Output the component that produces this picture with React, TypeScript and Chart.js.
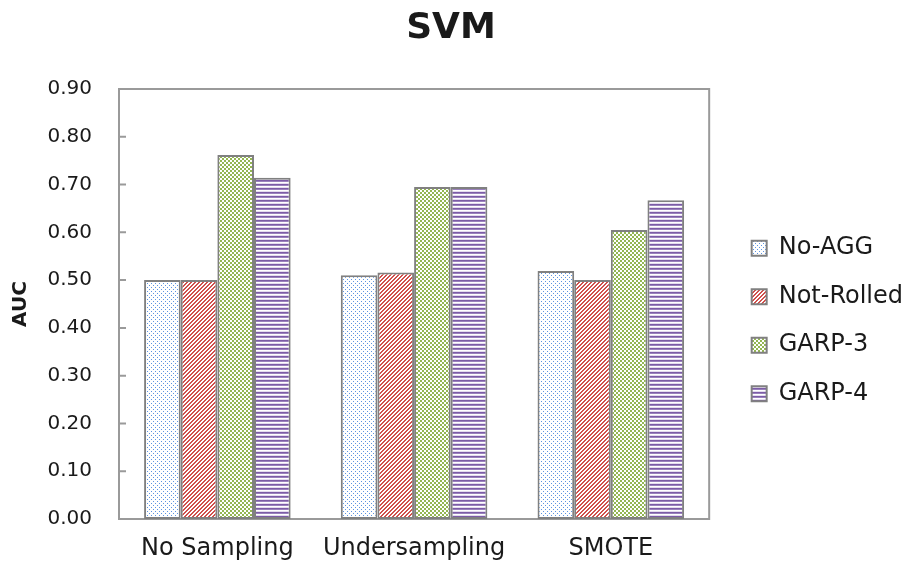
import React, { useEffect, useRef } from 'react';
import { Chart, registerables } from 'chart.js';

Chart.register(...registerables);

const categories = ['No Sampling', 'Undersampling', 'SMOTE'];
const seriesNames = ['No-AGG', 'Not-Rolled', 'GARP-3', 'GARP-4'];
const noAgg = [0.5, 0.51, 0.519];
const notRolled = [0.5, 0.516, 0.5];
const garp3 = [0.762, 0.695, 0.605];
const garp4 = [0.714, 0.695, 0.667];
const yMin = 0;
const yMax = 0.9;
const yStep = 0.1;

const FONT = 'DejaVu Sans';
const TEXT = '#1a1a1a';

function makePattern(w: number, h: number, draw: (g: CanvasRenderingContext2D) => void) {
  const c = document.createElement('canvas');
  c.width = w;
  c.height = h;
  const g = c.getContext('2d')!;
  draw(g);
  return g.createPattern(c, 'repeat')!;
}

export default function App() {
  const ref = useRef<HTMLCanvasElement | null>(null);

  useEffect(() => {
    document.body.style.margin = '0';
    const canvas = ref.current!;

    const dots = makePattern(4, 4, (g) => {
      g.fillStyle = '#ffffff';
      g.fillRect(0, 0, 4, 4);
      g.fillStyle = '#5d93e0';
      g.fillRect(1, 1, 1, 1);
      g.fillRect(3, 3, 1, 1);
    });
    const diag = makePattern(4, 4, (g) => {
      for (let x = 0; x < 4; x++) {
        for (let y = 0; y < 4; y++) {
          g.fillStyle = (x + y) % 4 < 2 ? '#d0504c' : '#ffffff';
          g.fillRect(x, y, 1, 1);
        }
      }
    });
    const check = makePattern(4, 4, (g) => {
      for (let x = 0; x < 4; x++) {
        for (let y = 0; y < 4; y++) {
          g.fillStyle = ((x >> 1) + (y >> 1)) % 2 === 0 ? '#93b652' : '#ffffff';
          g.fillRect(x, y, 1, 1);
        }
      }
    });
    const hstripe = makePattern(1, 4, (g) => {
      const rows = ['#7c5ca6', '#9a82bd', '#ffffff', '#e4dcee'];
      rows.forEach((c, i) => {
        g.fillStyle = c;
        g.fillRect(0, i, 1, 1);
      });
    });

    const fills = [dots, diag, check, hstripe];
    const values = [noAgg, notRolled, garp3, garp4];

    const framePlugin = {
      id: 'frame',
      beforeDatasetsDraw(chart: any) {
        const { ctx, chartArea: a, scales } = chart;
        const ys = scales.y;
        ctx.save();
        ctx.strokeStyle = '#9a9a9a';
        ctx.lineWidth = 2;
        ctx.strokeRect(a.left, a.top, a.right - a.left, a.bottom - a.top);
        ctx.beginPath();
        ys.ticks.forEach((t: any) => {
          const py = ys.getPixelForValue(t.value);
          ctx.moveTo(a.left, py);
          ctx.lineTo(a.left + 7, py);
        });
        ctx.stroke();
        ctx.restore();
      },
    };

    const chart = new Chart(canvas, {
      type: 'bar',
      data: {
        labels: categories,
        datasets: seriesNames.map((name, i) => ({
          label: name,
          data: values[i],
          backgroundColor: fills[i] as any,
          borderColor: '#808080',
          borderWidth: 2,
          borderSkipped: false,
          barPercentage: 1,
          categoryPercentage: 0.745,
        })),
      },
      options: {
        responsive: false,
        animation: false,
        devicePixelRatio: 1,
        layout: { padding: { left: -11, right: -4 } },
        plugins: {
          title: {
            display: true,
            text: 'SVM',
            color: TEXT,
            font: { family: FONT, size: 36, weight: 'bold' },
            padding: { top: 7, bottom: 38.8 },
          },
          legend: {
            position: 'right',
            align: 'center',
            fullSize: false,
            title: { display: true, text: ' ', font: { size: 10 }, padding: { top: 11, bottom: 11 } },
            labels: {
              boxWidth: 15,
              boxHeight: 15,
              padding: 24.5,
              color: TEXT,
              font: { family: FONT, size: 24 },
            },
          },
          tooltip: { enabled: false },
        },
        scales: {
          x: {
            grid: { display: false, drawTicks: false },
            border: { display: false },
            ticks: { color: TEXT, font: { family: FONT, size: 24 }, padding: 15 },
            afterFit: (s: any) => {
              s.height = 56;
            },
          },
          y: {
            min: yMin,
            max: yMax,
            grid: { display: false, drawTicks: false },
            border: { display: false },
            ticks: {
              stepSize: yStep,
              color: TEXT,
              font: { family: FONT, size: 20 },
              padding: 27,
              callback: (v: any) => Number(v).toFixed(2),
            },
            title: {
              display: true,
              text: 'AUC',
              color: TEXT,
              font: { family: FONT, size: 20, weight: 'bold' },
              padding: { top: 20, bottom: 0 },
            },
            afterFit: (s: any) => {
              s.width = 130;
            },
          },
          y2: {
            position: 'right',
            display: false,
            min: yMin,
            max: yMax,
            grid: { display: false, drawTicks: false },
            border: { display: false },
            ticks: { display: false },
            afterFit: (s: any) => {
              s.width = 18;
            },
          },
        },
      },
      plugins: [framePlugin],
    } as any);

    return () => chart.destroy();
  }, []);

  return (
    <div style={{ width: 909, height: 575 }}>
      <canvas ref={ref} width={909} height={575} style={{ display: 'block' }} />
    </div>
  );
}
